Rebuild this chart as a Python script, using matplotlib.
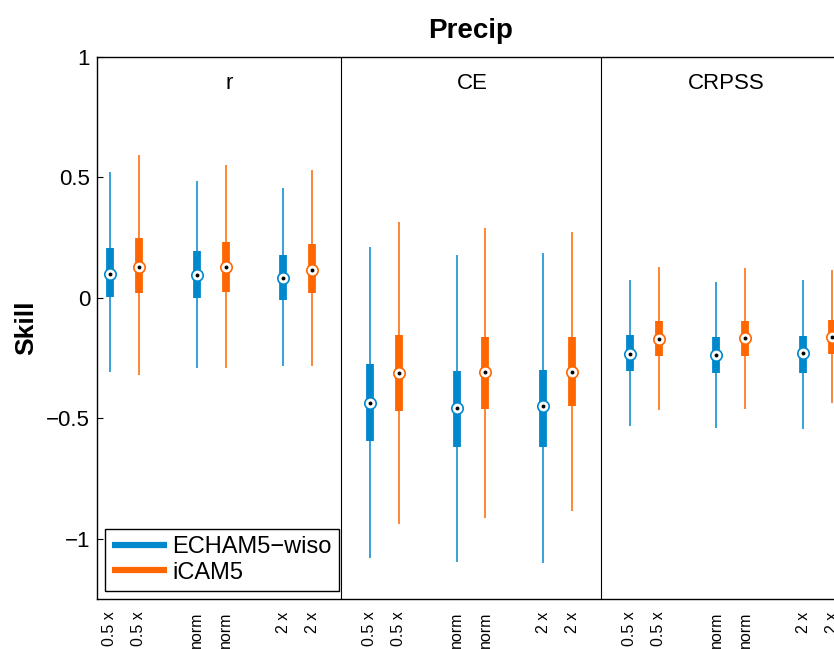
import matplotlib
matplotlib.use("Agg")
import matplotlib.pyplot as plt
from matplotlib.lines import Line2D

plt.rcParams['font.family'] = ['Liberation Sans', 'DejaVu Sans']
plt.rcParams['axes.unicode_minus'] = True

# ---------------- data ----------------
panels = ["r", "CE", "CRPSS"]
scalings = ["0.5 x", "norm", "2 x"]
models = ["ECHAM5\u2212wiso", "iCAM5"]
colors = ["#0088CC", "#FF6600"]

# per panel, per scaling: [whisker low, q1, median, q3, whisker high]
echam_stats = [
    [[-0.306, 0.004, 0.100, 0.209, 0.521],
     [-0.292, 0.001, 0.094, 0.195, 0.486],
     [-0.284, -0.007, 0.084, 0.179, 0.457]],
    [[-1.079, -0.594, -0.438, -0.274, 0.211],
     [-1.098, -0.620, -0.456, -0.303, 0.177],
     [-1.101, -0.618, -0.449, -0.298, 0.187]],
    [[-0.532, -0.305, -0.233, -0.154, 0.075],
     [-0.540, -0.313, -0.238, -0.163, 0.064],
     [-0.543, -0.310, -0.230, -0.157, 0.075]],
]
icam_stats = [
    [[-0.319, 0.022, 0.130, 0.249, 0.594],
     [-0.291, 0.024, 0.130, 0.233, 0.550],
     [-0.284, 0.021, 0.116, 0.223, 0.529]],
    [[-0.939, -0.468, -0.313, -0.155, 0.317],
     [-0.914, -0.462, -0.309, -0.162, 0.291],
     [-0.885, -0.450, -0.306, -0.162, 0.273]],
    [[-0.464, -0.242, -0.172, -0.094, 0.127],
     [-0.460, -0.241, -0.166, -0.094, 0.125],
     [-0.436, -0.231, -0.161, -0.091, 0.116]],
]
yticks = [-1, -0.5, 0, 0.5, 1]
yticklabels = ["\u22121", "\u22120.5", "0", "0.5", "1"]

# ---------------- figure ----------------
W, H = 834, 649
fig = plt.figure(figsize=(W / 100, H / 100), dpi=100)
ax = fig.add_axes([97 / W, 50 / H, 748 / W, 542 / H])

all_stats = [echam_stats, icam_stats]
xpos, xlabels = [], []
for p in range(len(panels)):
    for k in range(len(scalings)):
        for m in range(len(models)):
            x = 9 * p + 3 * k + m
            lo, q1, med, q3, hi = all_stats[m][p][k]
            c = colors[m]
            ax.plot([x, x], [lo, hi], color=c, lw=1.1, solid_capstyle='butt', zorder=2)
            ax.plot([x, x], [q1, q3], color=c, lw=5.6, solid_capstyle='butt', zorder=3)
            ax.plot([x], [med], marker='o', ms=8.2, mfc='white', mec=c, mew=1.2, zorder=4)
            ax.plot([x], [med], marker='o', ms=2.8, mfc='black', mec='black', mew=0, zorder=5)
            xpos.append(x)
            xlabels.append(scalings[k])
    # panel title
    ax.text(4 + 8 * p, 0.892, panels[p], ha='left', va='center', fontsize=16)

for sep in (8, 17):
    ax.axvline(sep, color='black', lw=0.8, zorder=1)

ax.set_xlim(-0.45, 25.45)
ax.set_ylim(-1.25, 1)
ax.set_xticks(xpos)
ax.set_xticklabels(xlabels, rotation=90, fontsize=11.5)
ax.tick_params(axis='x', length=0, pad=9)
ax.set_yticks(yticks)
ax.set_yticklabels(yticklabels, fontsize=16)
ax.tick_params(axis='y', direction='in', length=4.5, width=0.8, pad=5)
for s in ax.spines.values():
    s.set_linewidth(1.0)
    s.set_color('black')

ax.set_ylabel("Skill", fontsize=19, fontweight='bold', labelpad=6)
ax.set_title("Precip", fontsize=20, fontweight='bold', pad=14)

handles = [Line2D([0], [0], color=colors[i], lw=4.5, solid_capstyle='butt') for i in range(2)]
leg = ax.legend(handles, models, loc='lower left', fontsize=17, handlelength=2.3,
                handletextpad=0.25, borderpad=0.3, borderaxespad=0.35, labelspacing=0.15,
                fancybox=False, framealpha=1, edgecolor='black')
leg.get_frame().set_linewidth(1.0)

fig.savefig("out.png", dpi=100)
